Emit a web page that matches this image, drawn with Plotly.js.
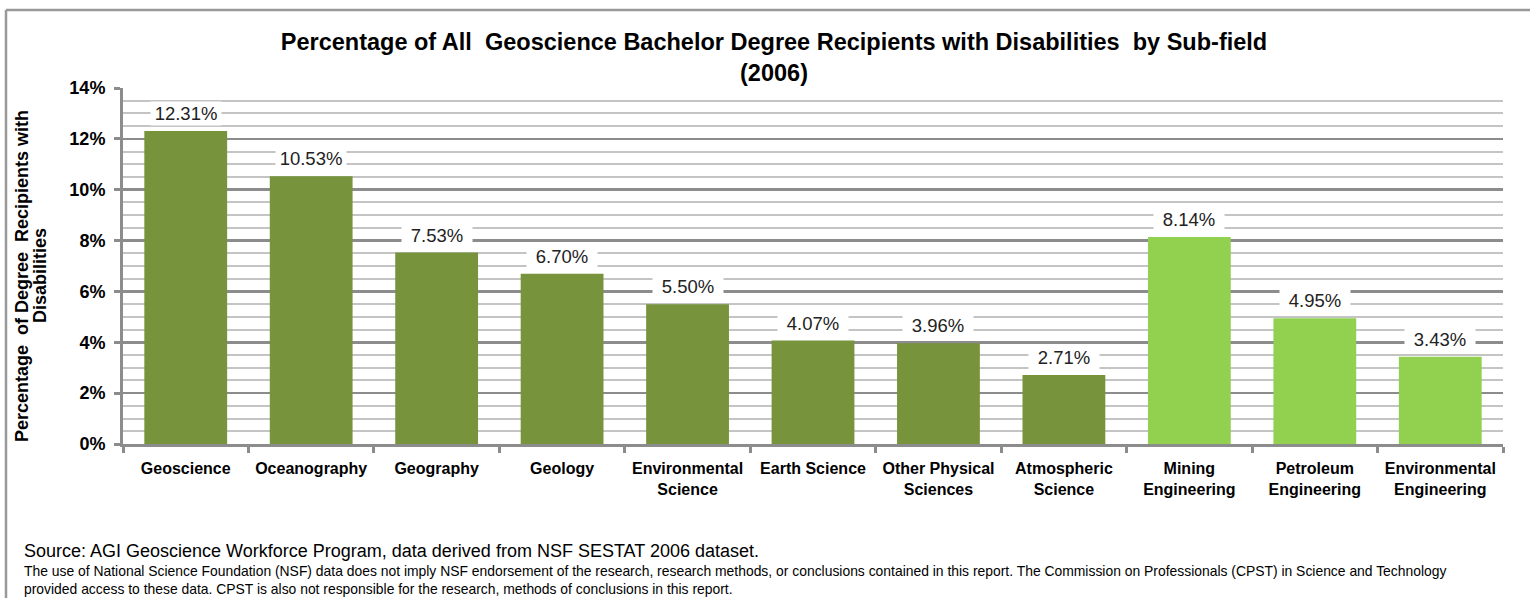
<!DOCTYPE html>
<html>
<head>
<meta charset="utf-8">
<script src="https://cdn.plot.ly/plotly-3.0.1.min.js"></script>
<style>html,body{margin:0;padding:0;background:#fff;}#chart{width:1530px;height:598px;}</style>
</head>
<body>
<div id="chart"></div>
<script>
const categories = ["Geoscience", "Oceanography", "Geography", "Geology", "Environmental<br>Science", "Earth Science", "Other Physical<br>Sciences", "Atmospheric<br>Science", "Mining<br>Engineering", "Petroleum<br>Engineering", "Environmental<br>Engineering"];
const values = [12.31, 10.53, 7.53, 6.70, 5.50, 4.07, 3.96, 2.71, 8.14, 4.95, 3.43];
const groups = ["geo", "geo", "geo", "geo", "geo", "geo", "geo", "geo", "eng", "eng", "eng"];
const groupColors = {geo: "#77933C", eng: "#92D050"};
const titleText = "<b>Percentage of All  Geoscience Bachelor Degree Recipients with Disabilities  by Sub-field<br>(2006)</b>";
const yTitleLines = ["<b>Percentage  of Degree  Recipients with</b>", "<b>Disabilities</b>"];
const sourceText = "Source: AGI Geoscience Workforce Program, data derived from NSF SESTAT 2006 dataset.";
const noteText = "The use of National Science Foundation (NSF) data does not imply NSF endorsement of the research, research methods, or conclusions contained in this report. The Commission on Professionals (CPST) in Science and Technology<br>provided access to these data. CPST is also not responsible for the research, methods of conclusions in this report.";

const W = 1530, H = 598;
const L = 123, R = 27, T = 88, B = 154;
const pw = W - L - R, ph = H - T - B;
const px = v => (v - L) / pw;
const py = v => (H - B - v) / ph;
const FONT = "Liberation Sans, Arial, sans-serif";

const trace = {
  type: "bar",
  x: categories,
  y: values,
  marker: {color: groups.map(g => groupColors[g])},
  hoverinfo: "none"
};

const labelAnns = categories.map((c, i) => ({
  x: c, y: values[i], xref: "x", yref: "y",
  text: values[i].toFixed(2) + "%",
  showarrow: false, yanchor: "bottom", yshift: 5,
  bgcolor: "#ffffff", borderpad: 1, width: 68,
  font: {family: FONT, size: 18.5, color: "#222"}
}));

const yTitleX = [22, 40];
const yTitleAnns = yTitleLines.map((t, i) => ({
  xref: "paper", yref: "paper", x: px(yTitleX[i]), y: py(276), text: t, textangle: -90,
  showarrow: false, xanchor: "center", yanchor: "middle",
  font: {size: 18, color: "#000", family: FONT}
}));

const layout = {
  width: W, height: H,
  margin: {l: L, r: R, t: T, b: B},
  paper_bgcolor: "#ffffff",
  plot_bgcolor: "#ffffff",
  showlegend: false,
  bargap: 0.34,
  font: {family: FONT, color: "#000"},
  title: {
    text: titleText, x: 774 / W, xanchor: "center", xref: "container",
    y: 1 - 50 / H, yanchor: "top", yref: "container",
    font: {size: 23.5, color: "#000", family: FONT}
  },
  xaxis: {
    type: "category",
    showline: true, linecolor: "#8c8c8c", linewidth: 3,
    ticks: "outside", tickson: "boundaries", ticklen: 6, tickwidth: 3, tickcolor: "#8c8c8c",
    ticklabelstandoff: 8, tickangle: 0,
    showgrid: false,
    tickfont: {size: 16, color: "#000", family: FONT, weight: "bold"},
    fixedrange: true
  },
  yaxis: {
    range: [0, 14], dtick: 2, tick0: 0,
    ticksuffix: "%",
    showline: true, linecolor: "#8c8c8c", linewidth: 3,
    ticks: "outside", ticklen: 6, tickwidth: 3, tickcolor: "#8c8c8c",
    ticklabelstandoff: 5,
    showgrid: true, gridcolor: "#8c8c8c", gridwidth: 2.5,
    zeroline: false,
    minor: {dtick: 0.5, showgrid: true, gridcolor: "#c4c4c4", gridwidth: 2, ticks: ""},
    tickfont: {size: 18, color: "#000", family: FONT, weight: "bold"},
    fixedrange: true
  },
  shapes: [
    {type: "line", xref: "paper", yref: "paper", x0: px(6), x1: px(1535), y0: py(10), y1: py(10), line: {color: "#999999", width: 2.5}},
    {type: "line", xref: "paper", yref: "paper", x0: px(6), x1: px(6), y0: py(10), y1: py(605), line: {color: "#999999", width: 2.5}}
  ],
  annotations: labelAnns.concat(yTitleAnns, [
    {xref: "paper", yref: "paper", x: px(22), y: py(551), text: sourceText,
     showarrow: false, xanchor: "left", yanchor: "middle",
     font: {size: 18, color: "#000", family: FONT}},
    {xref: "paper", yref: "paper", x: px(22), y: py(561), text: noteText, align: "left",
     showarrow: false, xanchor: "left", yanchor: "top",
     font: {size: 13.9, color: "#000", family: FONT}}
  ])
};

Plotly.newPlot("chart", [trace], layout, {displayModeBar: false, staticPlot: true});
</script>
</body>
</html>
